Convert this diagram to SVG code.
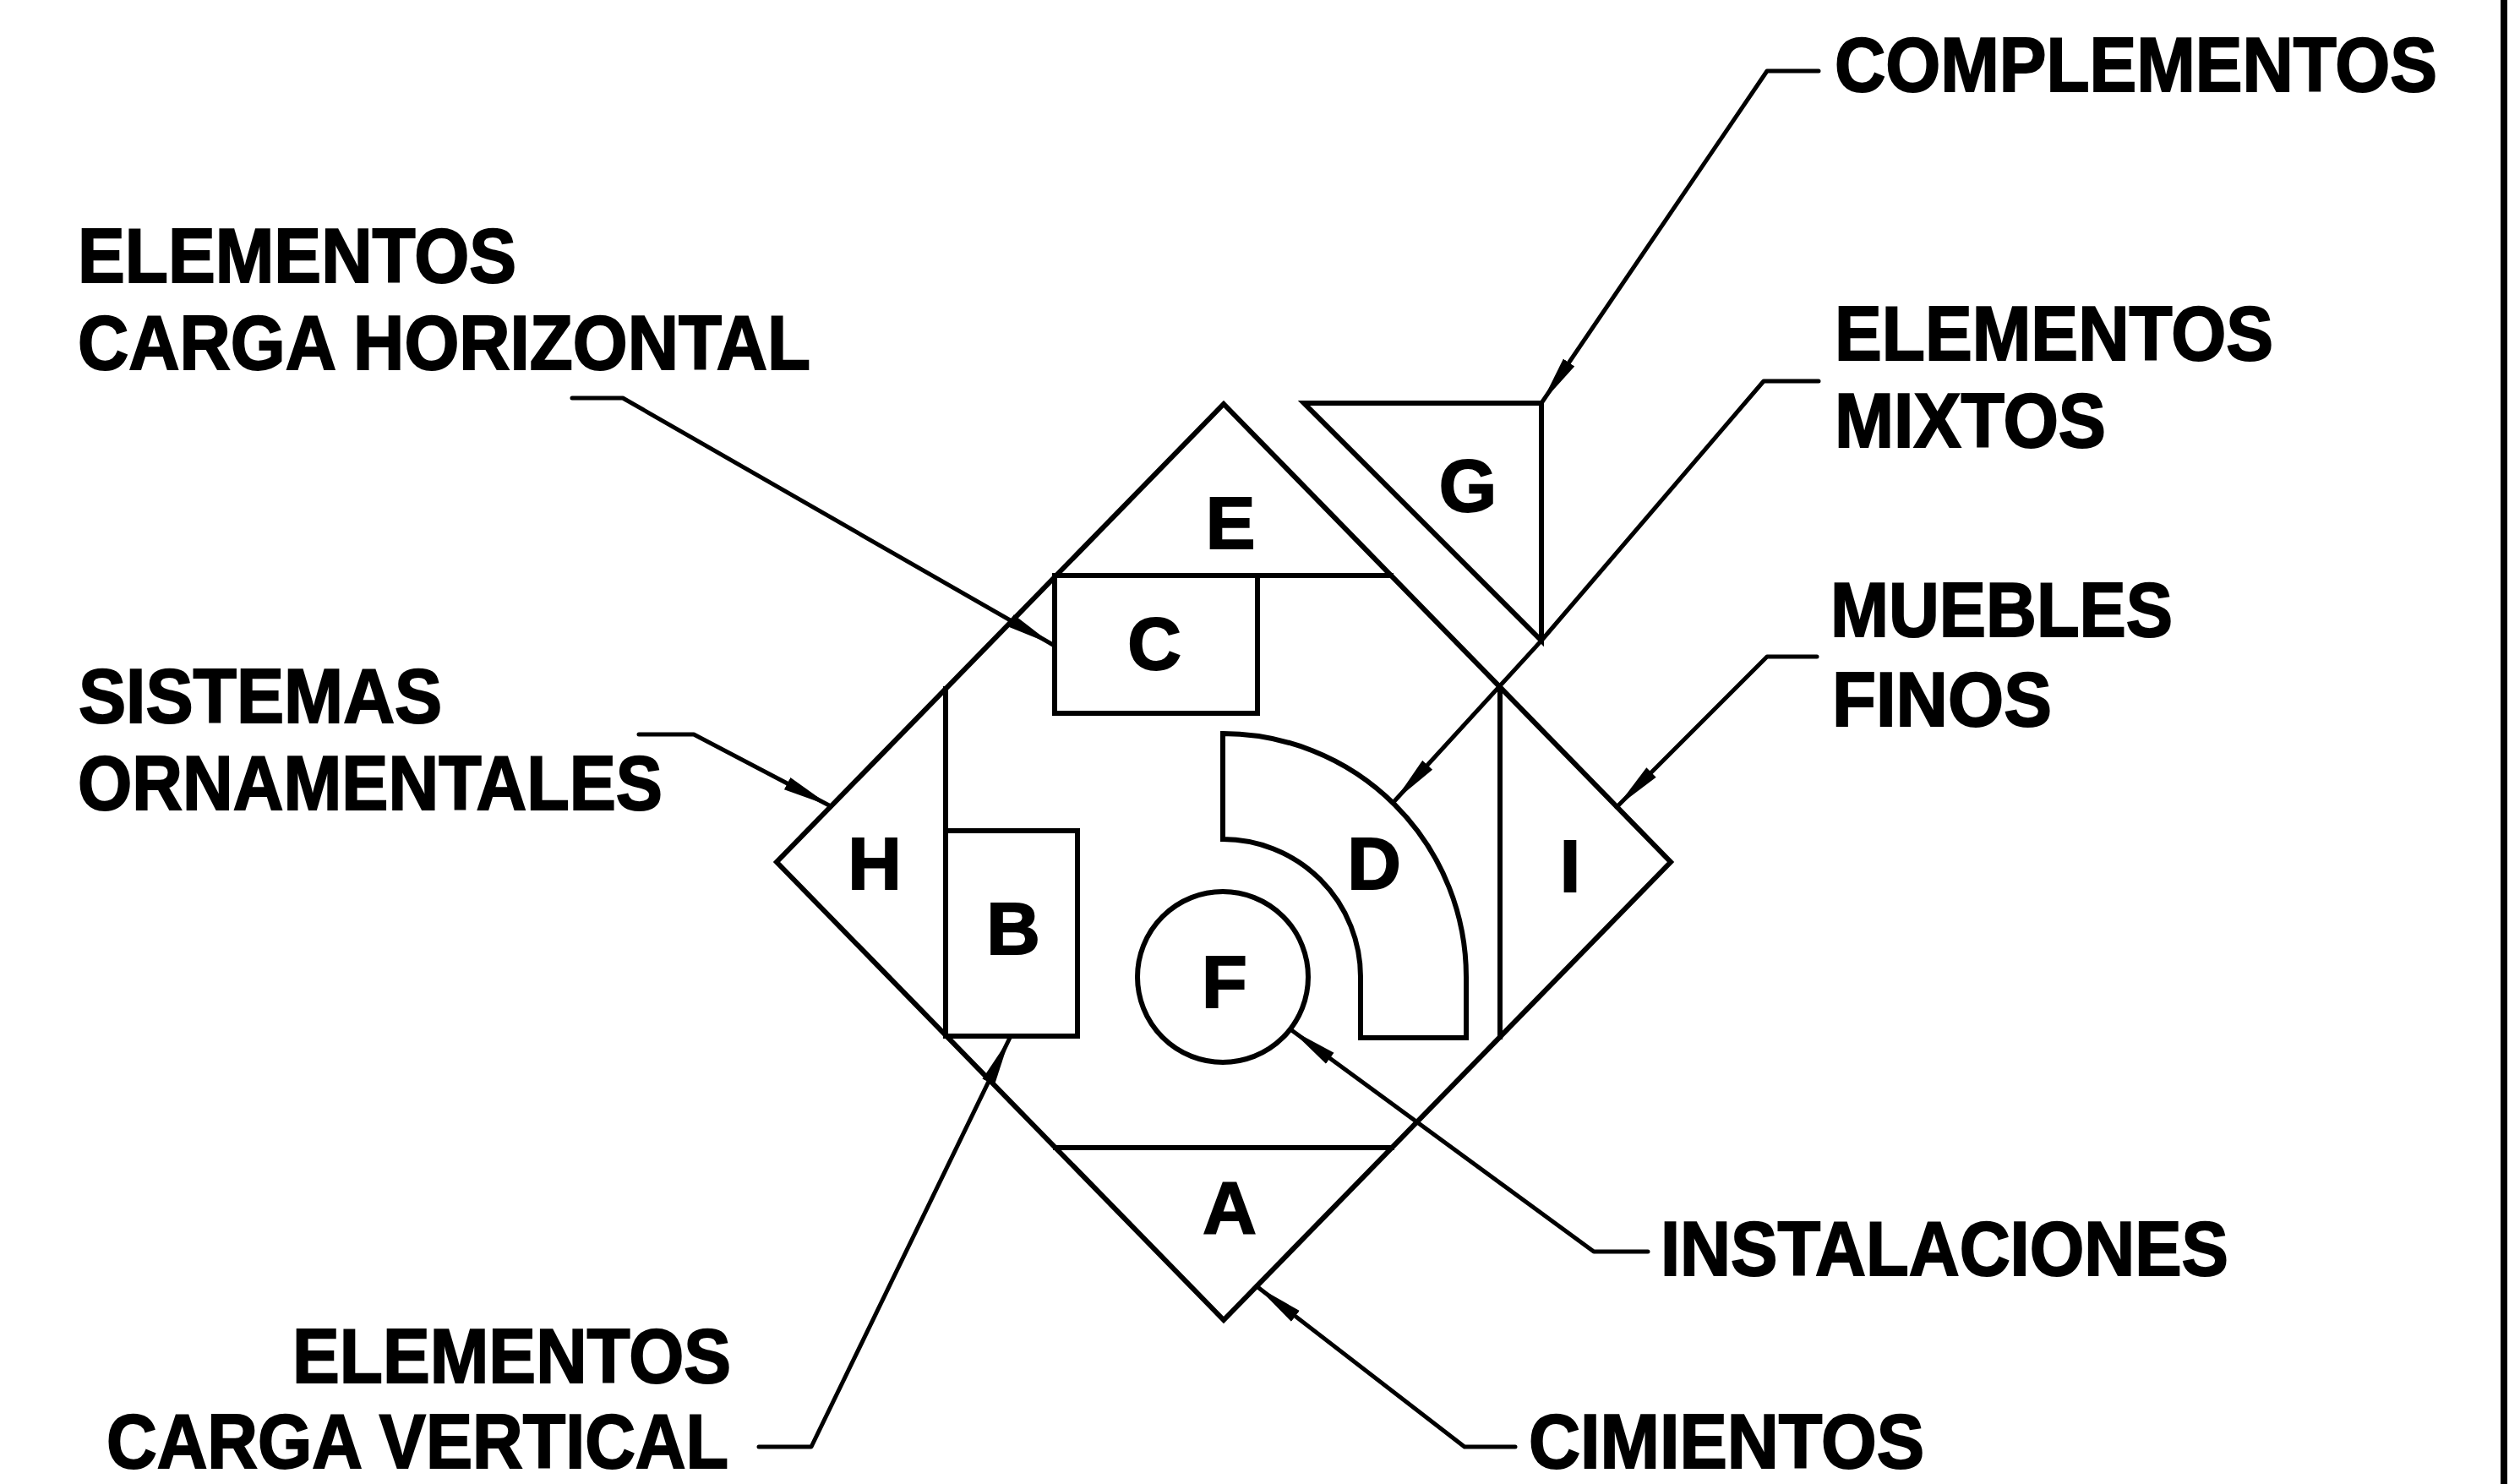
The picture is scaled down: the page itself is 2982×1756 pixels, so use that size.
<svg xmlns="http://www.w3.org/2000/svg" width="2982" height="1756" viewBox="0 0 2982 1756">
<style>
.s{fill:none;stroke:#000;stroke-width:6;stroke-linejoin:miter;stroke-linecap:square}
.l{fill:none;stroke:#000;stroke-width:5;stroke-linejoin:round;stroke-linecap:round}
.t{font-family:"Liberation Sans",Arial,Helvetica,sans-serif;font-weight:bold;font-size:91px;fill:#000;stroke:#000;stroke-width:2}
.k{font-family:"Liberation Sans",Arial,Helvetica,sans-serif;font-weight:bold;font-size:88px;fill:#000;stroke:#000;stroke-width:2;text-anchor:middle}
</style>
<defs>
<marker id="ar" markerUnits="userSpaceOnUse" viewBox="0 0 58 18" markerWidth="58" markerHeight="18" refX="58" refY="9" orient="auto">
<path d="M0,1 L58,9 L0,17 Z" fill="#000"/>
</marker>
</defs>
<rect x="0" y="0" width="2982" height="1756" fill="#fff"/>
<line x1="2963" y1="0" x2="2963" y2="1756" stroke="#000" stroke-width="8"/>

<g id="diamond">
<polygon class="s" points="1448,478 1977,1020 1448,1562 919,1020"/>
</g>
<g id="node-E">
<line class="s" x1="1250" y1="681" x2="1646" y2="681"/>
<text class="k" x="1456" y="649">E</text>
</g>
<g id="node-C">
<rect class="s" x="1248" y="681" width="240" height="163"/>
<text class="k" x="1366" y="792">C</text>
</g>
<g id="node-H">
<line class="s" x1="1119" y1="815" x2="1119" y2="1225"/>
<text class="k" x="1035" y="1052">H</text>
</g>
<g id="node-B">
<rect class="s" x="1119" y="983" width="156" height="243"/>
<text class="k" x="1199" y="1129">B</text>
</g>
<g id="node-I">
<line class="s" x1="1775" y1="813" x2="1775" y2="1227"/>
<text class="k" x="1858" y="1055">I</text>
</g>
<g id="node-A">
<line class="s" x1="1249" y1="1358" x2="1647" y2="1358"/>
<text class="k" x="1455" y="1459">A</text>
</g>
<g id="node-F">
<circle class="s" cx="1447" cy="1156" r="101"/>
<text class="k" x="1449" y="1192">F</text>
</g>
<g id="node-D">
<path class="s" d="M1447,868 A288,288 0 0 1 1735,1156 L1735,1228 L1610,1228 L1610,1156 A163,163 0 0 0 1447,993 Z"/>
<text class="k" x="1626" y="1052">D</text>
</g>
<g id="node-G">
<polygon class="s" points="1543,477 1824,477 1824,758"/>
<text class="k" x="1737" y="605">G</text>
</g>

<g id="label-complementos"><text class="t" x="2171" y="108" textLength="713" lengthAdjust="spacingAndGlyphs">COMPLEMENTOS</text></g>
<g id="label-mixtos">
<text class="t" x="2171" y="426" textLength="519" lengthAdjust="spacingAndGlyphs">ELEMENTOS</text>
<text class="t" x="2171" y="529" textLength="321" lengthAdjust="spacingAndGlyphs">MIXTOS</text>
</g>
<g id="label-muebles">
<text class="t" x="2166" y="753" textLength="405" lengthAdjust="spacingAndGlyphs">MUEBLES</text>
<text class="t" x="2168" y="859" textLength="260" lengthAdjust="spacingAndGlyphs">FINOS</text>
</g>
<g id="label-instalaciones"><text class="t" x="1965" y="1509" textLength="672" lengthAdjust="spacingAndGlyphs">INSTALACIONES</text></g>
<g id="label-cimientos"><text class="t" x="1809" y="1737" textLength="468" lengthAdjust="spacingAndGlyphs">CIMIENTOS</text></g>
<g id="label-vertical">
<text class="t" x="346" y="1636" textLength="519" lengthAdjust="spacingAndGlyphs">ELEMENTOS</text>
<text class="t" x="126" y="1737" textLength="736" lengthAdjust="spacingAndGlyphs">CARGA VERTICAL</text>
</g>
<g id="label-ornamentales">
<text class="t" x="93" y="855" textLength="430" lengthAdjust="spacingAndGlyphs">SISTEMAS</text>
<text class="t" x="92" y="958" textLength="692" lengthAdjust="spacingAndGlyphs">ORNAMENTALES</text>
</g>
<g id="label-horizontal">
<text class="t" x="92" y="334" textLength="519" lengthAdjust="spacingAndGlyphs">ELEMENTOS</text>
<text class="t" x="92" y="437" textLength="867" lengthAdjust="spacingAndGlyphs">CARGA HORIZONTAL</text>
</g>

<g id="connectors">
<polyline class="l" marker-end="url(#ar)" points="2152,84 2091,84 1824,477"/>
<polyline class="l" marker-end="url(#ar)" points="2152,451 2087,451 1824,758 1650,948"/>
<polyline class="l" marker-end="url(#ar)" points="2150,777 2091,777 1913,955"/>
<polyline class="l" marker-end="url(#ar)" points="1950,1481 1886,1481 1527,1218"/>
<polyline class="l" marker-end="url(#ar)" points="1793,1712 1733,1712 1487,1522"/>
<polyline class="l" marker-end="url(#ar)" points="898,1712 960,1712 1195,1228"/>
<polyline class="l" marker-end="url(#ar)" points="756,869 821,869 983,954"/>
<polyline class="l" marker-end="url(#ar)" points="677,471 737,471 1246,763"/>
</g>
</svg>
